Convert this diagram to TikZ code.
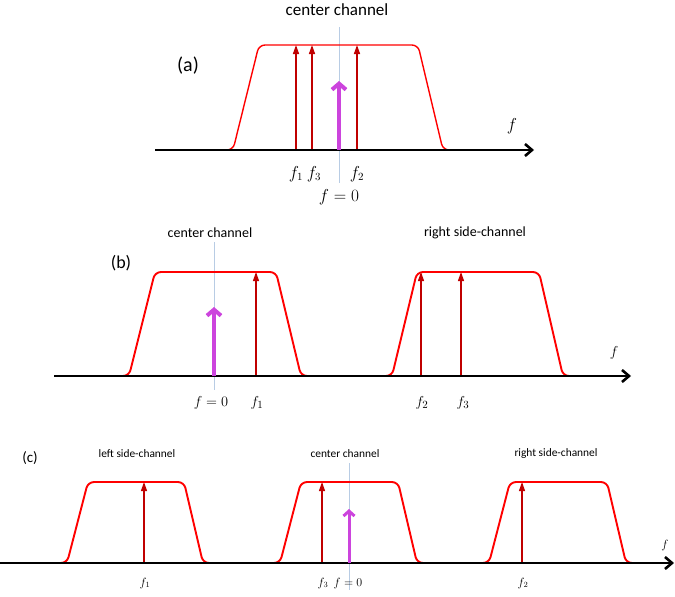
\documentclass[tikz,border=0pt]{standalone}
\usepackage{fontspec}
\setmainfont{Carlito}
\usetikzlibrary{arrows.meta}
\definecolor{chanred}{HTML}{FF0000}
\definecolor{tonered}{HTML}{C00000}
\definecolor{pilotc}{HTML}{CC44DD}
\definecolor{zeroc}{HTML}{B8CCE4}
\newcommand\fs[1]{\fontsize{#1}{#1}\selectfont}
\begin{document}
\begin{tikzpicture}[x=1pt,y=-1pt,
  chan/.style={draw=chanred, line width=1.9pt, rounded corners=6pt},
  tone/.style={draw=tonered, line width=1.1pt, -{Triangle[length=9pt,width=6pt]}},
  pilot/.style={draw=pilotc, line width=4pt, -{Straight Barb[length=6pt,width=14pt]}},
  axisline/.style={draw=black, line width=2.6pt, -{Straight Barb[length=7pt,width=12pt]}},
  zero/.style={draw=zeroc, line width=0.7pt},
  lbl/.style={inner sep=0pt, anchor=center}]
\useasboundingbox (0,0) rectangle (675,597);

% ---------------- (a) ----------------
\draw[zero] (339,27) -- (339,183);
\draw[chan, line width=1.4pt] (224,150) -- (233,150) -- (259,45) -- (418,45) -- (443,150) -- (452,150);
\coordinate (a1b) at (296,150); \coordinate (a1t) at (296,45);
\coordinate (a3b) at (312,150); \coordinate (a3t) at (312,45);
\coordinate (a2b) at (357,150); \coordinate (a2t) at (357,45);
\coordinate (a0b) at (339,150); \coordinate (a0t) at (339,81);
\draw[tone, line width=1.5pt] (a1b) -- (a1t);
\draw[tone, line width=1.5pt] (a3b) -- (a3t);
\draw[tone, line width=1.5pt] (a2b) -- (a2t);
\coordinate (aax0) at (155,150); \coordinate (aax1) at (534,150);
\draw[axisline] (aax0) -- (aax1);
\draw[pilot] (a0b) -- (a0t);
\node[lbl] (acc) at (337,10) {\fs{17}center channel};
\node[lbl] (alab) at (188,66) {\fs{20}(a)};
\node[lbl] (af) at (512,126) {\fs{16}$f$};
\node[lbl] (af1) at (296,174) {\fs{16}$f_1$};
\node[lbl] (af3) at (314,174) {\fs{16}$f_3$};
\node[lbl] (af2) at (357,174) {\fs{16}$f_2$};
\node[lbl] (af0) at (339,197) {\fs{16}$f=0$};

% ---------------- (b) ----------------
\draw[zero] (214,242) -- (214,390);
\draw[chan] (120,376) -- (129,376) -- (155,272) -- (276,272) -- (301,376) -- (310,376);
\draw[chan] (383,376) -- (392,376) -- (417,272) -- (539,272) -- (563,376) -- (572,376);
\coordinate (b1b) at (256,376); \coordinate (b1t) at (256,272);
\coordinate (b2b) at (421,376); \coordinate (b2t) at (421,272);
\coordinate (b3b) at (461,376); \coordinate (b3t) at (461,272);
\coordinate (b0b) at (214,376); \coordinate (b0t) at (214,307);
\draw[tone] (b1b) -- (b1t);
\draw[tone] (b2b) -- (b2t);
\draw[tone] (b3b) -- (b3t);
\coordinate (bax0) at (54,376); \coordinate (bax1) at (631,376);
\draw[axisline] (bax0) -- (bax1);
\draw[pilot] (b0b) -- (b0t);
\node[lbl] (bcc) at (210,233) {\fs{14}center channel};
\node[lbl] (brs) at (475,233) {\fs{14}right side-channel};
\node[lbl] (blab) at (121,263) {\fs{18}(b)};
\node[lbl] (bf) at (614,353) {\fs{15}$f$};
\node[lbl] (bf0) at (211,403) {\fs{15}$f=0$};
\node[lbl] (bf1) at (257,403) {\fs{15}$f_1$};
\node[lbl] (bf2) at (422,403) {\fs{15}$f_2$};
\node[lbl] (bf3) at (463,403) {\fs{15}$f_3$};

% ---------------- (c) ----------------
\draw[zero] (349,463) -- (349,590);
\draw[chan] (59,563) -- (67,563) -- (88,482) -- (184,482) -- (203,563) -- (211,563);
\draw[chan] (272,563) -- (280,563) -- (301,482) -- (398,482) -- (417,563) -- (425,563);
\draw[chan] (481,563) -- (489,563) -- (510,482) -- (607,482) -- (626,563) -- (634,563);
\coordinate (c1b) at (144,563); \coordinate (c1t) at (144,482);
\coordinate (c3b) at (322,563); \coordinate (c3t) at (322,482);
\coordinate (c2b) at (522,563); \coordinate (c2t) at (522,482);
\coordinate (c0b) at (349,563); \coordinate (c0t) at (349,509);
\draw[tone] (c1b) -- (c1t);
\draw[tone] (c3b) -- (c3t);
\draw[tone] (c2b) -- (c2t);
\coordinate (cax0) at (0,563); \coordinate (cax1) at (674,563);
\draw[axisline] (cax0) -- (cax1);
\draw[pilot, line width=3pt, -{Straight Barb[length=5pt,width=11pt]}] (c0b) -- (c0t);
\node[lbl] (clab) at (30,458) {\fs{15}(c)};
\node[lbl] (cls) at (137,454) {\fs{11.4}left side-channel};
\node[lbl] (ccc) at (345,454) {\fs{11.4}center channel};
\node[lbl] (crs) at (556,454) {\fs{11.4}right side-channel};
\node[lbl] (cf) at (665,545) {\fs{12}$f$};
\node[lbl] (cf1) at (145,583) {\fs{12}$f_1$};
\node[lbl] (cf3) at (323,583) {\fs{12}$f_3$};
\node[lbl] (cf0) at (348,583) {\fs{12}$f=0$};
\node[lbl] (cf2) at (523,583) {\fs{12}$f_2$};
\end{tikzpicture}
\end{document}
